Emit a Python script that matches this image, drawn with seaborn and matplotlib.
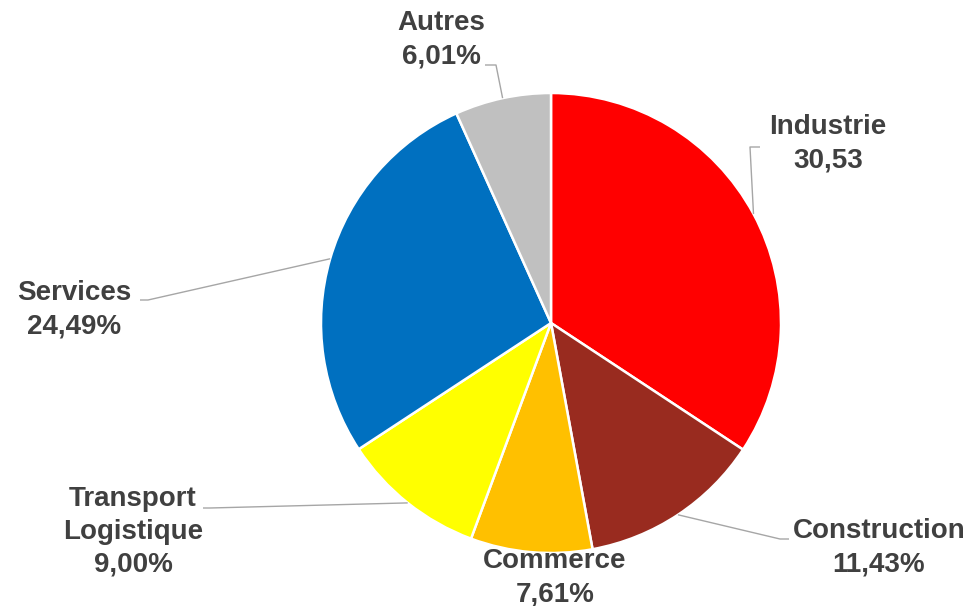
import numpy as np
import matplotlib.pyplot as plt
import seaborn as sns

# ==========================
# DATA
# ==========================
sectors = ['Industrie', 'Construction', 'Commerce', 'Transport\nLogistique', 'Services', 'Autres']
values = [30.53, 11.43, 7.61, 9.00, 24.49, 6.01]
value_labels = ['30,53', '11,43%', '7,61%', '9,00%', '24,49%', '6,01%']
colors = ['#FF0000', '#992B1F', '#FFC000', '#FFFF00', '#0070C0', '#C0C0C0']

# ==========================
# LAYOUT (pixel coords, y from top)
# ==========================
W, H = 971, 606
center_px = (551, 323)
radius = 230
# text centre of each label
label_pos = [(828, 144), (879, 548), (555, 578), (133, 532), (74, 310), (441, 40)]
# elbow and stub end of the leader lines (None = no leader)
leader_pts = [
    [(750, 147), (760, 147)],
    [(780, 539), (789, 539)],
    None,
    [(210, 508), (203, 508)],
    [(148, 300), (140, 300)],
    [(496, 65), (485, 65)],
]

sns.set_theme(style='white')
plt.rcParams['font.family'] = ['Liberation Sans', 'DejaVu Sans']

fig = plt.figure(figsize=(W / 100, H / 100), dpi=100)
ax = fig.add_axes([0, 0, 1, 1])


def to_data(p):
    return p[0], H - p[1]


cx, cy = to_data(center_px)
wedges, _ = ax.pie(values, colors=colors, startangle=90, counterclock=False,
                   center=(cx, cy), radius=radius, frame=True,
                   wedgeprops=dict(edgecolor='white', linewidth=1.8))
ax.set_xlim(0, W)
ax.set_ylim(0, H)
ax.axis('off')

for w, name, val, pos, lead in zip(wedges, sectors, value_labels, label_pos, leader_pts):
    # leader line starts on the wedge edge at its middle angle
    mid = np.deg2rad((w.theta1 + w.theta2) / 2)
    ex, ey = cx + radius * np.cos(mid), cy + radius * np.sin(mid)
    if lead is not None:
        pts = [(ex, ey)] + [to_data(p) for p in lead]
        xs, ys = zip(*pts)
        ax.plot(xs, ys, color='#A6A6A6', lw=1.0, solid_capstyle='butt', zorder=3)
    tx, ty = to_data(pos)
    ax.text(tx, ty, f'{name}\n{val}', ha='center', va='center', fontsize=20,
            fontweight='bold', color='#404040', linespacing=1.35)

fig.savefig('out.png', dpi=100)
